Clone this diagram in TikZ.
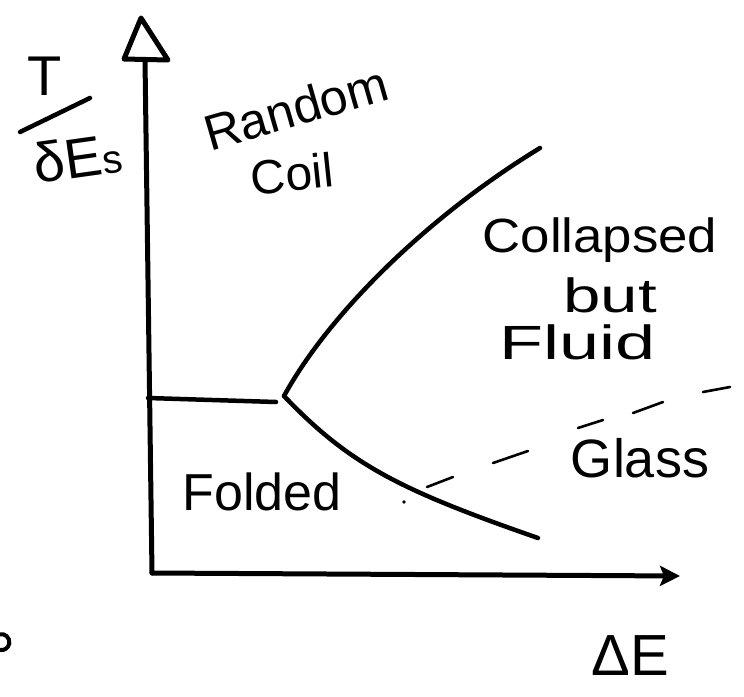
\documentclass[tikz,border=0pt]{standalone}
\usepackage{fontspec}
\setmainfont{Liberation Sans}
\usetikzlibrary{arrows.meta}
\tikzset{
  axisline/.style={line width=5pt, line cap=round, line join=round},
  phaseline/.style={line width=4.5pt, line cap=round},
  dashseg/.style={line width=2.6pt, line cap=round},
  lbl/.style={inner sep=0pt, font=\fontsize{#1}{#1}\selectfont},
}
\begin{document}
\begin{tikzpicture}[x=1pt,y=-1pt]
\useasboundingbox (0,0) rectangle (744,696);
% axes
\coordinate (origin) at (152,573);
\coordinate (ytop) at (145,60);
\coordinate (xend) at (680,576);
\draw[axisline] (origin) -- (ytop);
\draw[axisline, line join=round] (124,59) -- (141,18) -- (168,60) -- cycle;
\draw[axisline, -{Stealth[length=20pt,width=20pt,inset=4pt]}] (origin) -- (xend);
% phase boundaries
\coordinate (triple) at (284,396);
\coordinate (hleft) at (148,398);
\coordinate (hend) at (276,402);
\coordinate (upend) at (540,148);
\coordinate (lowend) at (538,538);
\draw[phaseline] (hleft) -- (hend);
\draw[phaseline] (triple) .. controls (330,312) and (430,215) .. (upend);
\draw[phaseline] (triple) .. controls (350,465) and (400,490) .. (lowend);
% glass dashed boundary
\foreach \a/\b in {{(427,487)}/{(453,477)},{(493,463)}/{(528,451)},{(578,428)}/{(603,420)},{(633,413)}/{(663,402)},{(703,392)}/{(730,387)}}
  \draw[dashseg] \a -- \b;
\fill (404,502) circle (1.8);
% axis labels
\node[lbl=56] (T) at (45,76) {T};
\draw[line width=4.5pt, line cap=round] (20,132) -- (90,98);
\node[lbl=56, rotate=8] (dEs) at (78,158) {δE{\fontsize{40}{40}\selectfont s}};
\node[lbl=58] (dE) at (630,656) {ΔE};
% region labels
\node[lbl=50, rotate=16] (random) at (296,108) {Random};
\node[lbl=48, rotate=6] (coil) at (292,174) {Coil};
\node[lbl=48] (collapsed) at (600,240) {\scalebox{1.1}[1]{Collapsed}};
\node[lbl=48] (but) at (610,295) {\scalebox{1.4}[1]{but}};
\node[lbl=48] (fluid) at (578,342) {\scalebox{1.5}[1]{Fluid}};
\node[lbl=54] (glass) at (640,458) {Glass};
\node[lbl=52] (folded) at (262,492) {Folded};
% cropped mark at left edge
\draw[line width=4pt] (0,650) arc[start angle=100, end angle=-100, radius=8];
\end{tikzpicture}
\end{document}
